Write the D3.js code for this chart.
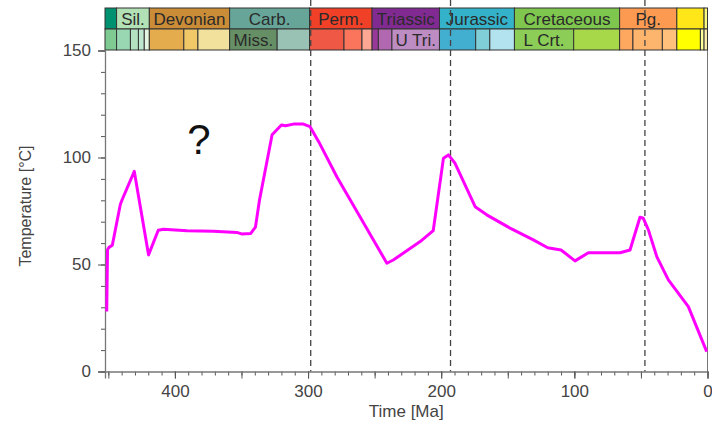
<!DOCTYPE html>
<html>
<head>
<meta charset="utf-8">
<script src="https://cdn.jsdelivr.net/npm/d3@7"></script>
<style>
  body { margin: 0; background: #fff; }
  svg { display: block; font-family: "Liberation Sans", Arial, sans-serif; }
</style>
</head>
<body>
<div id="vis"></div>
<script>
// geologic periods (top row of the time scale)
const periodNames = ["Ordovician", "Silurian", "Devonian", "Carboniferous", "Permian", "Triassic",
                     "Jurassic", "Cretaceous", "Paleogene", "Neogene", "Quaternary"];
const periodLabels = ["", "Sil.", "Devonian", "Carb.", "Perm.", "Triassic",
                      "Jurassic", "Cretaceous", "Pg.", "", ""];
const periodStart = [452.5, 443.8, 419.2, 358.9, 298.9, 251.9, 201.3, 145, 66, 23.03, 2.58];
const periodEnd = [443.8, 419.2, 358.9, 298.9, 251.9, 201.3, 145, 66, 23.03, 2.58, 0];
const periodColors = ["#009270", "#b3e1b6", "#cb8c37", "#67a599", "#f04028", "#812b92",
                      "#34b2c9", "#7fc64e", "#fd9a52", "#ffe619", "#f9f97f"];

// epochs (bottom row)
const epochLabels = ["", "", "", "", "", "", "", "", "Miss.", "", "", "", "", "", "", "U Tri.",
                     "", "", "", "L Crt.", "", "", "", "", "", "", "", ""];
const epochStart = [452.5, 443.8, 433.4, 427.4, 423, 419.2, 393.3, 382.7, 358.9, 323.2, 298.9, 273,
                    259.5, 251.9, 247.2, 237, 201.3, 174.1, 163.5, 145, 100.5, 66, 56, 33.9,
                    23.03, 5.33, 2.58, 0.0117];
const epochEnd = [443.8, 433.4, 427.4, 423, 419.2, 393.3, 382.7, 358.9, 323.2, 298.9, 273, 259.5,
                  251.9, 247.2, 237, 201.3, 174.1, 163.5, 145, 100.5, 66, 56, 33.9, 23.03,
                  5.33, 2.58, 0.0117, 0];
const epochColors = ["#7fca93", "#99d7b3", "#b3e1c2", "#bfe6cf", "#e6f5e1", "#e5ac4d", "#f1c868",
                     "#f1e19d", "#678f66", "#99c2b5", "#ef5845", "#fb745c", "#fba794", "#983999",
                     "#b168b1", "#bd8cc3", "#42aed0", "#80cfd8", "#b3e3ee", "#8ccd57", "#a6d84a",
                     "#fda75f", "#fdb46c", "#fec07a", "#ffff00", "#ffff99", "#fff2ae", "#fef2e0"];

// temperature history
const timeMa = [451.2, 450.6, 449.5, 447, 441, 439.5, 430.5, 419.8, 412.5, 408.5, 391, 371, 353.5,
                350, 343, 339.5, 336.5, 327, 320, 317, 311, 303.5, 298.5, 292, 278.4, 240.8, 236,
                215.8, 206, 198.3, 194.6, 189.6, 174.5, 165.8, 148.3, 130.8, 120, 110, 99.5, 89.5,
                65.7, 58.2, 50.7, 48.2, 44.4, 38.1, 29.4, 14.4, 0.6];
const tempC = [28, 57, 58, 59, 78, 80.5, 93.5, 54.5, 66, 66.5, 65.8, 65.5, 65, 64.3, 64.5, 67.5, 80,
               110.6, 115.2, 114.8, 115.6, 115.6, 114.4, 107.4, 91, 50.6, 52.1, 60.7, 65.8, 99.7,
               101.2, 97.3, 77, 73.2, 67, 61.5, 57.8, 56.8, 51.7, 55.5, 55.5, 56.8, 72.1, 71.6,
               66.2, 53.7, 42.8, 30.3, 9.3];

const markerTimes = [298, 193, 47];
const xTickValues = [400, 300, 200, 100, 0];
const yTickValues = [0, 50, 100, 150];

const WIDTH = 712;
const HEIGHT = 422;
const MARGINS = {left: 105, right: 4.5, top: 50.5, bottom: 50.5};
const SCALE_TOP = 8;
const ROW_H = 21;

const svg = d3.select("#vis")
  .append("svg")
    .attr("width", WIDTH)
    .attr("height", HEIGHT);

const X_SCALE = d3.scaleLinear()
  .domain([452.5, 0])
  .range([MARGINS.left, WIDTH - MARGINS.right]);

const Y_SCALE = d3.scaleLinear()
  .domain([0, 150])
  .range([HEIGHT - MARGINS.bottom, MARGINS.top]);

const x0 = X_SCALE.range()[0], x1 = X_SCALE.range()[1];
const yBottom = Y_SCALE(0), yTop = Y_SCALE(150);

// right frame line
svg.append("line")
  .attr("x1", x1).attr("x2", x1)
  .attr("y1", yTop).attr("y2", yBottom)
  .attr("stroke", "#777");

// time scale rows
function drawRow(starts, ends, colors, labels, y) {
  const g = svg.append("g");
  g.selectAll("rect")
    .data(starts)
    .enter()
    .append("rect")
      .attr("x", (d) => X_SCALE(d))
      .attr("y", y)
      .attr("width", (d, i) => X_SCALE(ends[i]) - X_SCALE(d))
      .attr("height", ROW_H)
      .attr("fill", (d, i) => colors[i])
      .attr("stroke", "#333")
      .attr("stroke-width", 1);
  g.selectAll("text")
    .data(starts)
    .enter()
    .append("text")
      .attr("x", (d, i) => (X_SCALE(d) + X_SCALE(ends[i])) / 2)
      .attr("y", y + ROW_H / 2 + 6)
      .attr("text-anchor", "middle")
      .attr("font-size", "17px")
      .attr("fill", "#2a2a2a")
      .text((d, i) => labels[i]);
}
drawRow(periodStart, periodEnd, periodColors, periodLabels, SCALE_TOP);
drawRow(epochStart, epochEnd, epochColors, epochLabels, SCALE_TOP + ROW_H);

// dashed markers
svg.selectAll(".marker")
  .data(markerTimes)
  .enter()
  .append("line")
    .attr("class", "marker")
    .attr("x1", (d) => X_SCALE(d))
    .attr("x2", (d) => X_SCALE(d))
    .attr("y1", 0)
    .attr("y2", yBottom)
    .attr("stroke", "#444")
    .attr("stroke-width", 1.3)
    .attr("stroke-dasharray", "6,4");

// axes
const xMinor = svg.append("g")
  .attr("transform", "translate(0," + yBottom + ")")
  .call(d3.axisBottom(X_SCALE).tickValues(d3.range(450, -1, -10)).tickSize(4).tickFormat(""));
const xMid = svg.append("g")
  .attr("transform", "translate(0," + yBottom + ")")
  .call(d3.axisBottom(X_SCALE).tickValues(d3.range(450, -1, -50)).tickSize(7).tickFormat(""));
const xAxis = svg.append("g")
  .attr("transform", "translate(0," + yBottom + ")")
  .call(d3.axisBottom(X_SCALE).tickValues(xTickValues).tickSize(7).tickPadding(6));

const yMinor = svg.append("g")
  .attr("transform", "translate(" + x0 + ",0)")
  .call(d3.axisLeft(Y_SCALE).tickValues(d3.range(0, 151, 10)).tickSize(4).tickFormat(""));
const yAxis = svg.append("g")
  .attr("transform", "translate(" + x0 + ",0)")
  .call(d3.axisLeft(Y_SCALE).tickValues(yTickValues).tickSize(7).tickPadding(7));

[xMinor, xMid, xAxis, yMinor, yAxis].forEach((g) => {
  g.selectAll("path").attr("stroke", "#777").attr("stroke-width", 1.3);
  g.selectAll("line").attr("stroke", "#555");
  g.selectAll("text").attr("font-size", "17px").attr("fill", "#444")
    .attr("font-family", "'Liberation Sans', Arial, sans-serif");
});
xMinor.select("path").remove();
xMid.select("path").remove();
yMinor.select("path").remove();

// axis titles
svg.append("text")
  .attr("x", (x0 + x1) / 2)
  .attr("y", 417)
  .attr("text-anchor", "middle")
  .attr("font-size", "17px")
  .attr("fill", "#444")
  .text("Time [Ma]");

svg.append("text")
  .attr("transform", "translate(31," + ((yTop + yBottom) / 2 - 5) + ") rotate(-90)")
  .attr("text-anchor", "middle")
  .attr("font-size", "16px")
  .attr("fill", "#444")
  .text("Temperature [°C]");

svg.append("text")
  .attr("x", 199)
  .attr("y", 154)
  .attr("text-anchor", "middle")
  .attr("font-size", "42px")
  .attr("fill", "#111")
  .text("?");

// temperature curve
const line = d3.line()
  .x((d) => X_SCALE(d))
  .y((d, i) => Y_SCALE(tempC[i]));

svg.append("path")
  .datum(timeMa)
  .attr("d", line)
  .attr("fill", "none")
  .attr("stroke", "#ff00ff")
  .attr("stroke-width", 3)
  .attr("stroke-linejoin", "round");
</script>
</body>
</html>
